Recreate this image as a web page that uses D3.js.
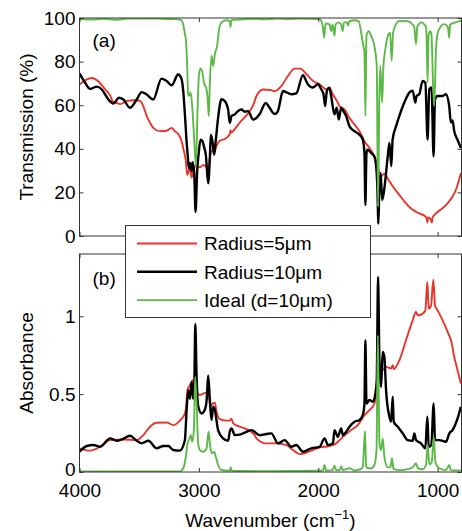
<!DOCTYPE html>
<html><head><meta charset="utf-8">
<script src="https://cdn.jsdelivr.net/npm/d3@7"></script>
<style>
body{margin:0;background:#fff}
svg{display:block}
text{font-family:"Liberation Sans",Arial,Helvetica,sans-serif;fill:#000}
</style>
</head><body>
<svg id="c" width="462" height="531"></svg>
<script>
// ---------- data ----------
const xTicks = [4000, 3000, 2000, 1000];
const transTicks = [0, 20, 40, 60, 80, 100];
const absTicks = [0, 0.5, 1];
const absTickLabels = ["0", "0.5", "1"];
const seriesNames = ["Radius=5\u03bcm", "Radius=10\u03bcm", "Ideal (d=10\u03bcm)"];
const seriesColors = ["#e8352b", "#000000", "#5cb946"];

// (a) transmission [wavenumber, %]
const transRed = [[4000,69.5],[3950,71.5],[3896,72.5],[3855,71.5],[3785,67.3],[3744,64.5],[3716,61.4],[3688,61],[3660,60.5],[3600,62],[3540,62.3],[3493,62],[3465,59.5],[3437,55],[3410,52],[3382,49.6],[3326,48.1],[3270,48.3],[3228,49.6],[3200,48],[3173,46.8],[3145,43.5],[3131,40.4],[3109,34.2],[3098,28],[3075,31.1],[3061,26.8],[3048,29.9],[3019,32.3],[2992,31.5],[2964,32.6],[2936,31.5],[2922,29.9],[2908,36],[2889,39.1],[2872,38.3],[2852,41.4],[2825,43.7],[2783,44.5],[2741,46.8],[2735,48.5],[2727,47.5],[2700,49],[2658,52],[2602,55.3],[2546,59.9],[2518,64.1],[2463,67.2],[2400,67],[2365,66.4],[2309,68.8],[2254,73.4],[2198,76.8],[2150,76.8],[2100,74.3],[2045,71.2],[1989,69.6],[1933,67.3],[1906,68],[1878,65],[1836,61.2],[1822,59.6],[1781,58.1],[1739,54.2],[1697,51.2],[1655,48.1],[1613,43.5],[1571,40.4],[1530,36.5],[1502,32],[1488,28.9],[1474,27.3],[1450,28.5],[1438,28.2],[1404,25.1],[1376,22.8],[1321,18.9],[1265,15],[1209,12],[1154,10.4],[1098,8.8],[1090,7.5],[1086,6.2],[1080,8.5],[1062,8],[1048,6.2],[1042,8.5],[1014,10.4],[959,12.7],[917,15],[876,18],[842,21.9],[805,28.9]];
const transBlack = [[4000,74.6],[3953,70.3],[3911,67.5],[3855,68.5],[3813,67.2],[3758,62.6],[3716,60.8],[3669,63.4],[3632,62.6],[3577,58.8],[3521,62.6],[3479,66],[3437,64.9],[3382,62.6],[3313,72.2],[3270,71.1],[3228,69.1],[3173,74.2],[3159,73.5],[3145,72],[3131,66.5],[3117,55.8],[3103,43.4],[3094,37.3],[3084,31.1],[3075,33.5],[3061,29.9],[3053,33.9],[3039,28.9],[3028,11.1],[3014,29.9],[3000,38.8],[2986,44.2],[2969,43.4],[2958,41.1],[2942,37.3],[2922,24.2],[2908,35.8],[2900,46.5],[2886,43.4],[2872,37.3],[2860,43],[2839,54.2],[2811,62.7],[2783,61.9],[2755,58],[2741,51.9],[2727,55],[2699,55.8],[2672,57.3],[2643,58],[2616,57],[2588,57.3],[2546,53.4],[2490,56],[2440,61],[2410,59],[2365,56],[2340,57],[2295,66.5],[2270,66],[2226,65],[2184,65.4],[2128,73.8],[2100,71],[2087,69.6],[2045,68.1],[2003,69.6],[1975,67.3],[1956,65],[1942,59.6],[1928,66.5],[1906,68],[1892,64.2],[1864,55.8],[1845,58.8],[1828,53.4],[1808,58.8],[1789,57.3],[1766,55],[1739,50.4],[1697,48.1],[1655,46.5],[1627,44.2],[1613,38.1],[1605,14.2],[1596,38.1],[1586,39.6],[1557,38.1],[1530,36.5],[1515,32],[1505,22.8],[1496,5.7],[1488,22.8],[1477,28.9],[1465,16.5],[1452,19.5],[1438,25.7],[1418,36.5],[1404,42.7],[1388,32],[1377,44.2],[1348,50.4],[1321,55],[1279,61.2],[1237,65.8],[1209,66.6],[1187,61.2],[1176,64.2],[1154,65],[1126,71.1],[1103,70.3],[1084,44.2],[1070,67.3],[1051,68.1],[1034,36.5],[1022,62.7],[1001,64.2],[959,64.2],[931,65],[903,59.6],[889,52],[875,53],[861,48.1],[834,44.2],[805,40.4]];
const transGreen = [[4000,99.5],[3900,99.3],[3800,99.6],[3700,99.2],[3600,99.7],[3500,99.8],[3400,99.8],[3300,99.6],[3200,99.5],[3150,99],[3131,97],[3115,92],[3109,90.4],[3098,78],[3090,65],[3081,64.2],[3070,66],[3056,59.6],[3039,44.2],[3025,32],[3011,58],[3000,73.5],[2986,76.9],[2969,74.6],[2958,70.4],[2936,67.3],[2925,62],[2917,55],[2908,70.4],[2894,82.7],[2880,78],[2866,83.5],[2847,87.3],[2830,95],[2811,98],[2769,99],[2740,98.5],[2735,95.8],[2729,99],[2650,99.3],[2550,99.6],[2450,99.4],[2350,99.7],[2250,99.5],[2150,99.8],[2050,99.6],[1989,99.5],[1965,97],[1950,91],[1942,96.5],[1933,97.5],[1905,97],[1891,94],[1880,97],[1864,91.8],[1855,97],[1830,98],[1808,97],[1795,94],[1785,98],[1760,98],[1750,96.5],[1740,98.5],[1700,99],[1660,98.5],[1641,93.4],[1622,87.2],[1613,84.3],[1605,55],[1596,92],[1577,94],[1557,91.8],[1530,87.2],[1510,78],[1499,13.4],[1488,64.2],[1480,78],[1465,61.2],[1454,78],[1438,85.6],[1418,91.7],[1398,93.3],[1385,80.4],[1373,93.3],[1348,97.2],[1321,98.7],[1250,98.5],[1209,97],[1196,96],[1181,88],[1170,96],[1134,98],[1110,97],[1098,96],[1092,91],[1084,70.4],[1076,92],[1060,94],[1051,91.7],[1037,67.3],[1028,59.6],[1014,85.6],[1000,93],[987,94.8],[958,97],[945,97.2],[915,96],[903,91],[895,97],[850,98],[805,98.8]];

// (b) absorbance [wavenumber, A]
const absRed = [[4000,0.152],[3911,0.137],[3827,0.162],[3744,0.205],[3632,0.209],[3521,0.205],[3465,0.237],[3409,0.291],[3354,0.316],[3270,0.318],[3214,0.301],[3159,0.33],[3117,0.376],[3105,0.43],[3095,0.53],[3081,0.55],[3067,0.57],[3060,0.55],[3053,0.59],[3039,0.547],[3019,0.51],[2992,0.494],[2964,0.504],[2936,0.51],[2920,0.504],[2903,0.419],[2886,0.44],[2866,0.445],[2852,0.385],[2825,0.34],[2769,0.33],[2741,0.33],[2727,0.342],[2713,0.312],[2658,0.291],[2602,0.275],[2532,0.237],[2518,0.216],[2435,0.184],[2351,0.184],[2267,0.173],[2212,0.141],[2156,0.115],[2100,0.124],[2045,0.141],[1989,0.158],[1905,0.167],[1850,0.184],[1794,0.226],[1724,0.269],[1669,0.301],[1613,0.365],[1571,0.397],[1529,0.44],[1501,0.536],[1487,0.622],[1460,0.654],[1432,0.675],[1390,0.665],[1376,0.686],[1368,0.66],[1320,0.718],[1265,0.846],[1209,0.974],[1181,1.028],[1167,1.006],[1125,1.017],[1103,1.038],[1086,1.22],[1075,1.049],[1055,1.07],[1036,1.235],[1022,1.07],[1000,1.038],[958,0.974],[916,0.9],[895,0.86],[888,0.846],[861,0.739],[833,0.654],[805,0.568]];
const absBlack = [[4000,0.13],[3939,0.167],[3883,0.173],[3827,0.162],[3744,0.216],[3688,0.201],[3646,0.209],[3577,0.233],[3521,0.201],[3479,0.184],[3423,0.201],[3354,0.152],[3298,0.167],[3256,0.167],[3214,0.141],[3159,0.137],[3117,0.205],[3103,0.397],[3089,0.526],[3075,0.47],[3061,0.58],[3048,0.47],[3039,0.53],[3030,0.95],[3019,0.61],[3005,0.42],[2978,0.376],[2950,0.4],[2935,0.46],[2922,0.62],[2908,0.462],[2894,0.333],[2880,0.419],[2866,0.4],[2852,0.33],[2839,0.269],[2797,0.216],[2755,0.2],[2741,0.26],[2727,0.28],[2699,0.237],[2658,0.24],[2602,0.258],[2560,0.269],[2490,0.237],[2435,0.244],[2393,0.248],[2337,0.184],[2281,0.205],[2226,0.162],[2184,0.173],[2128,0.13],[2058,0.152],[1989,0.162],[1947,0.216],[1919,0.173],[1877,0.184],[1864,0.269],[1836,0.226],[1808,0.28],[1794,0.237],[1766,0.259],[1738,0.291],[1696,0.323],[1655,0.333],[1627,0.365],[1613,0.44],[1605,0.846],[1596,0.44],[1571,0.462],[1543,0.451],[1521,0.504],[1510,0.59],[1499,1.252],[1487,0.697],[1474,0.547],[1460,0.771],[1446,0.739],[1432,0.526],[1404,0.355],[1390,0.323],[1376,0.483],[1368,0.323],[1334,0.291],[1292,0.248],[1251,0.205],[1209,0.201],[1195,0.248],[1181,0.205],[1139,0.184],[1103,0.152],[1086,0.355],[1075,0.162],[1053,0.173],[1033,0.44],[1022,0.205],[986,0.205],[930,0.194],[902,0.248],[875,0.269],[833,0.344],[805,0.419]];
const absGreen = [[4000,0.004],[3700,0.003],[3400,0.004],[3159,0.004],[3131,0.024],[3109,0.098],[3095,0.184],[3081,0.209],[3067,0.237],[3056,0.194],[3042,0.269],[3031,0.611],[3019,0.44],[3006,0.184],[2992,0.141],[2964,0.13],[2936,0.152],[2919,0.259],[2908,0.184],[2892,0.12],[2872,0.13],[2858,0.098],[2839,0.045],[2811,0.013],[2741,0.008],[2733,0.03],[2725,0.008],[2400,0.005],[2000,0.008],[1960,0.01],[1947,0.045],[1935,0.01],[1880,0.012],[1864,0.04],[1850,0.012],[1820,0.012],[1808,0.038],[1795,0.012],[1738,0.024],[1700,0.01],[1640,0.02],[1627,0.034],[1608,0.263],[1599,0.03],[1560,0.022],[1529,0.045],[1512,0.141],[1501,0.878],[1487,0.184],[1474,0.14],[1460,0.216],[1446,0.098],[1418,0.03],[1395,0.03],[1382,0.088],[1370,0.02],[1320,0.012],[1240,0.02],[1209,0.03],[1181,0.056],[1167,0.025],[1125,0.018],[1097,0.045],[1083,0.173],[1070,0.05],[1050,0.06],[1033,0.226],[1019,0.066],[986,0.024],[930,0.012],[902,0.045],[890,0.012],[805,0.01]];

// ---------- layout ----------
const L = 79.5, R = 461.5;
const panelTop = {y0: 18, y1: 236};
const panelBot = {y0: 254, y1: 472};
const svg = d3.select("#c");
const x = d3.scaleLinear().domain([4000, 800]).range([L, R]);
const yT = d3.scaleLinear().domain([0, 100]).range([panelTop.y1, panelTop.y0]);
const yA = d3.scaleLinear().domain([0, 1.4]).range([panelBot.y1, panelBot.y0]);
const FS = 19;
const frameColor = "#333";
const lineWidths = [1.9, 2.4, 1.9];

function drawPanel(p, y, yTicks, yFmt, showX, series, id) {
  const g = svg.append("g");
  svg.append("clipPath").attr("id", id).append("rect")
    .attr("x", L).attr("y", p.y0).attr("width", R - L).attr("height", p.y1 - p.y0);
  const lines = g.append("g").attr("clip-path", `url(#${id})`);
  const line = d3.line().x(d => x(d[0])).y(d => y(d[1])).curve(d3.curveMonotoneX);
  series.forEach((s, i) => {
    lines.append("path").attr("d", line(s)).attr("fill", "none")
      .attr("stroke", seriesColors[i]).attr("stroke-width", lineWidths[i])
      .attr("stroke-linejoin", "round");
  });
  g.append("rect").attr("x", L).attr("y", p.y0).attr("width", R - L).attr("height", p.y1 - p.y0)
    .attr("fill", "none").attr("stroke", frameColor).attr("stroke-width", 1);
  const styleAxis = sel => {
    sel.select(".domain").remove();
    sel.selectAll(".tick line").attr("stroke", frameColor);
    sel.selectAll("text").attr("font-size", FS).attr("font-family", '"Liberation Sans",Arial,sans-serif').attr("fill", "#000");
  };
  const yAx = g.append("g").attr("transform", `translate(${L},0)`)
    .call(d3.axisLeft(y).tickValues(yTicks).tickFormat(yFmt).tickSizeInner(-4).tickSizeOuter(0).tickPadding(4)).call(styleAxis);
  if (showX) {
    // nudge the bottom "0" up slightly so it does not collide with the first x label
    yAx.selectAll(".tick text").filter(d => d === 0).attr("dy", "0.18em");
  }
  g.append("g").attr("transform", `translate(${R},0)`)
    .call(d3.axisRight(y).tickValues(yTicks).tickFormat("").tickSizeInner(-4).tickSizeOuter(0)).call(styleAxis);
  g.append("g").attr("transform", `translate(0,${p.y0})`)
    .call(d3.axisTop(x).tickValues(xTicks).tickFormat("").tickSizeInner(-4).tickSizeOuter(0)).call(styleAxis);
  g.append("g").attr("transform", `translate(0,${p.y1})`)
    .call(d3.axisBottom(x).tickValues(xTicks).tickFormat(showX ? d3.format("d") : "").tickSizeInner(-4).tickSizeOuter(0).tickPadding(12)).call(styleAxis);
}

drawPanel(panelTop, yT, transTicks, d3.format("d"), false, [transRed, transBlack, transGreen], "clipA");
drawPanel(panelBot, yA, absTicks, (d, i) => absTickLabels[i], true, [absRed, absBlack, absGreen], "clipB");

svg.append("text").attr("x", 92.5).attr("y", 47).attr("font-size", FS).text("(a)");
svg.append("text").attr("x", 92.5).attr("y", 285).attr("font-size", FS).text("(b)");

svg.append("text").attr("transform", `translate(33,${(panelTop.y0 + panelTop.y1) / 2}) rotate(-90)`)
  .attr("text-anchor", "middle").attr("font-size", FS).text("Transmission (%)");
svg.append("text").attr("transform", `translate(33,${(panelBot.y0 + panelBot.y1) / 2}) rotate(-90)`)
  .attr("text-anchor", "middle").attr("font-size", FS).text("Absorbance");
const xt = svg.append("text").attr("x", (L + R) / 2).attr("y", 527).attr("text-anchor", "middle").attr("font-size", FS);
xt.append("tspan").text("Wavenumber (cm");
xt.append("tspan").attr("font-size", 13).attr("dy", -8).text("\u22121");
xt.append("tspan").attr("dy", 8).text(")");

const lg = svg.append("g");
lg.append("rect").attr("x", 125.5).attr("y", 225.5).attr("width", 245).attr("height", 92)
  .attr("fill", "#fff").attr("stroke", frameColor).attr("stroke-width", 1);
seriesNames.forEach((n, i) => {
  const yy = 243.5 + i * 28.3;
  lg.append("line").attr("x1", 137).attr("x2", 197).attr("y1", yy).attr("y2", yy)
    .attr("stroke", seriesColors[i]).attr("stroke-width", lineWidths[i]);
  lg.append("text").attr("x", 204).attr("y", yy + 6.8).attr("font-size", FS).text(n);
});
</script>
</body></html>
